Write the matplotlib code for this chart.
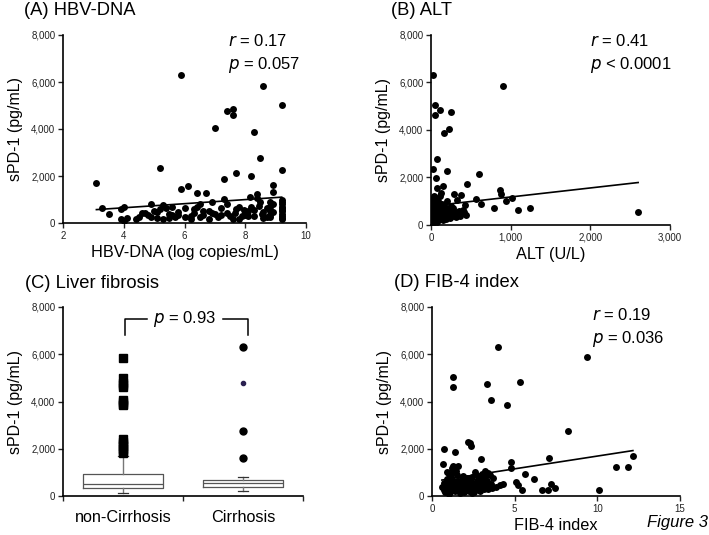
import matplotlib
matplotlib.use("Agg")
import matplotlib.pyplot as plt
from matplotlib.ticker import StrMethodFormatter

plt.rcParams['font.family'] = ['Liberation Sans', 'DejaVu Sans']

# (A) HBV-DNA vs sPD-1
hbv_x = [3.1, 3.3, 3.5, 3.9, 4.0, 3.9, 4.1, 4.0, 4.5, 4.7, 4.9, 4.8, 4.9, 5.1, 5.2, 5.1, 5.4, 5.5, 5.6, 5.8,
         5.9, 6.1, 5.7, 6.0, 6.0, 5.9, 5.3, 5.0, 4.6, 5.6, 5.3, 6.2, 6.3, 6.4, 6.5, 6.4, 6.6, 6.7, 6.8, 6.9,
         7.0, 7.0, 7.2, 7.3, 7.3, 7.4, 7.4, 7.5, 7.6, 7.6, 7.65, 7.7, 7.7, 7.8, 7.9, 7.95, 8.0, 8.1, 8.2, 8.15,
         8.2, 8.3, 8.3, 8.4, 8.4, 8.45, 8.5, 8.5, 8.55, 8.6, 8.6, 8.7, 8.8, 8.8, 8.8, 8.8, 8.8, 8.9, 8.9, 8.9,
         8.9, 9.2, 9.2, 9.2, 9.2, 9.2, 9.2, 9.2, 9.2, 9.2, 9.2, 9.2, 9.2, 9.2, 6.2, 6.6, 7.1, 7.8, 5.5, 6.3,
         6.9, 7.2, 7.6, 8.0, 8.6, 8.7, 4.4, 5.8, 6.8, 5.2, 7.4, 8.1, 6.5, 8.3]
hbv_y = [1700, 620, 370, 580, 660, 150, 230, 90, 240, 440, 810, 340, 270, 450, 2330, 200, 620, 370, 340, 450,
         1450, 1560, 270, 620, 270, 6300, 180, 500, 420, 680, 750, 300, 410, 1270, 270, 700, 520, 1270, 500, 900,
         370, 4040, 630, 1870, 1030, 420, 4750, 280, 4840, 4600, 410, 2130, 600, 700, 280, 550, 450, 300, 1980, 1120,
         700, 3870, 550, 1220, 1050, 740, 2750, 900, 400, 5850, 200, 620, 900, 700, 500, 350, 250, 1620, 1300, 800,
         450, 5030, 2260, 1000, 900, 800, 700, 650, 550, 500, 400, 300, 200, 150, 150, 330, 250, 180, 230, 600,
         420, 350, 150, 350, 450, 250, 150, 330, 180, 600, 800, 500, 820, 300]
hbv_fit = (87, 300)  # slope, intercept

# (B) ALT vs sPD-1
alt_x = [21, 54, 54, 113, 250, 229, 158, 75, 29, 63, 196, 604, 908, 71, 146, 125, 458, 292, 375, 867,
         875, 563, 625, 946, 1021, 792, 1096, 1238, 438, 430, 321, 2600,
         10, 12, 15, 18, 20, 22, 25, 28, 30, 33, 35, 38, 40, 42, 45, 48, 50, 52, 55, 58,
         60, 62, 65, 68, 70, 72, 75, 78, 80, 85, 88, 90, 95, 98, 100, 105, 110, 112, 118, 120,
         125, 130, 135, 140, 145, 150, 155, 160, 165, 170, 180, 185, 190, 200, 210, 220, 230, 240, 250, 260,
         270, 280, 290, 300, 310, 330, 350, 360, 380, 400, 420, 15, 30, 45, 25, 35, 90, 60, 140, 200, 250]
alt_y = [6320, 5050, 4630, 4840, 4770, 4040, 3890, 2780, 2360, 1960, 2270, 2150, 5870, 1570, 1640, 1330, 1730, 1290, 1260, 1470,
         1290, 1080, 880, 1020, 1150, 730, 630, 700, 420, 840, 1050, 560,
         900, 700, 500, 300, 150, 800, 600, 400, 250, 950, 700, 520, 350, 180, 850, 650, 450, 300, 1000, 750,
         550, 380, 200, 900, 600, 420, 280, 120, 800, 650, 480, 330, 700, 900, 550, 400, 250, 600, 1220, 800,
         450, 650, 300, 550, 750, 420, 200, 600, 850, 480, 350, 650, 250, 550, 400, 700, 450, 300, 600, 380,
         500, 700, 420, 550, 350, 480, 600, 380, 500, 650, 550, 1100, 1050, 1150, 100, 1200, 1000, 150, 900, 1000, 820]
alt_fit = (0.38, 800)

# (C) Liver fibrosis box plot
groups = ['non-Cirrhosis', 'Cirrhosis']
box_q1 = [350, 360]
box_med = [520, 530]
box_q3 = [950, 680]
box_lo = [130, 220]
box_hi = [1700, 820]
noncirr_out = [1800, 1900, 2000, 2100, 2200, 2300, 2400, 3850, 3900, 3980, 4050, 4600, 4700, 4800, 5000, 5850]
cirr_out = [1600, 2750, 6300]
cirr_out_small = [4800]
p_text_c = '$p$ = 0.93'

# (D) FIB-4 index vs sPD-1
fib_x = [4.0, 9.4, 1.3, 1.27, 3.3, 5.35, 3.55, 4.55, 8.25, 0.7, 1.37, 2.2, 2.35, 2.3, 0.65, 1.27, 1.55, 2.95, 4.75, 4.8,
         7.05, 5.6, 6.15, 6.65, 7.0, 7.2, 7.45, 5.1, 5.45, 5.2, 4.3, 4.1, 3.4, 10.1, 11.15, 11.85, 12.15,
         0.6, 0.7, 0.75, 0.8, 0.85, 0.9, 0.95, 1.0, 1.0, 1.05, 1.1, 1.1, 1.15, 1.2, 1.25, 1.3, 1.3, 1.35, 1.4, 1.45,
         1.5, 1.5, 1.55, 1.6, 1.65, 1.7, 1.75, 1.8, 1.85, 1.9, 1.95, 2.0, 2.05, 2.1, 2.15, 2.2, 2.25, 2.3, 2.35, 2.4,
         2.45, 2.5, 2.55, 2.6, 2.7, 2.75, 2.8, 2.9, 2.95, 3.0, 3.05, 3.1, 3.15, 3.2, 3.3, 3.35, 3.4, 3.5, 3.55, 3.6,
         1.2, 1.45, 0.9, 2.6, 3.2, 1.0, 1.7, 2.4, 3.7, 3.9, 2.8, 1.9]
fib_y = [6320, 5870, 5050, 4630, 4740, 4840, 4060, 3850, 2760, 1990, 1880, 2300, 2130, 2230, 1340, 1280, 1280, 1550, 1440, 1170,
         1600, 920, 720, 250, 250, 490, 330, 610, 250, 460, 510, 460, 990, 250, 1240, 1240, 1690,
         400, 250, 550, 150, 350, 700, 450, 950, 250, 600, 380, 150, 800, 500, 300, 1000, 650, 420, 200, 550,
         350, 900, 650, 450, 250, 520, 380, 700, 300, 480, 180, 600, 400, 750, 300, 520, 200, 650, 420, 800,
         300, 550, 180, 450, 650, 300, 500, 200, 700, 400, 950, 550, 300, 800, 450, 650, 280, 900, 500, 350,
         1200, 1050, 1000, 1000, 1050, 100, 120, 130, 750, 400, 850, 850]
fib_fit = (108, 610)


def style_axes(ax):
    for s in ['top', 'right']:
        ax.spines[s].set_visible(False)
    for s in ['left', 'bottom']:
        ax.spines[s].set_linewidth(1.2)
    ax.tick_params(direction='out', length=3.5, width=1, labelsize=7, pad=2, colors='#222')
    ax.set_ylim(0, 8000)
    ax.set_yticks([0, 2000, 4000, 6000, 8000])
    ax.yaxis.set_major_formatter(StrMethodFormatter('{x:,.0f}'))
    ax.set_ylabel('sPD-1 (pg/mL)', fontsize=11.5, labelpad=6)


def scatter_panel(ax, xs, ys, fit):
    ax.scatter(xs, ys, s=25, color='black', zorder=3, linewidths=0)
    x0, x1 = min(xs), max(xs)
    ax.plot([x0, x1], [fit[1] + fit[0] * x0, fit[1] + fit[0] * x1], color='black', lw=1.2, zorder=4)
    style_axes(ax)


fig = plt.figure(figsize=(7.09, 5.35), dpi=100)
W, H = 709, 535


def add_ax(l, t, r, b):
    return fig.add_axes([l / W, 1 - b / H, (r - l) / W, (b - t) / H])


axA = add_ax(63, 35, 306, 223)
axB = add_ax(431, 35, 670, 225)
axC = add_ax(63, 307, 303, 496)
axD = add_ax(432, 307, 680, 496)

# A
scatter_panel(axA, hbv_x, hbv_y, hbv_fit)
axA.set_xlim(2, 10)
axA.set_xticks([2, 4, 6, 8, 10])
axA.set_xlabel('HBV-DNA (log copies/mL)', fontsize=11.7, labelpad=3)
axA.text(0.68, 1.01, '$r$ = 0.17\n$p$ = 0.057', transform=axA.transAxes, fontsize=12,
         va='top', ha='left', linespacing=1.45)

# B
scatter_panel(axB, alt_x, alt_y, alt_fit)
axB.set_xlim(0, 3000)
axB.set_xticks([0, 1000, 2000, 3000])
axB.xaxis.set_major_formatter(StrMethodFormatter('{x:,.0f}'))
axB.set_xlabel('ALT (U/L)', fontsize=11.7, labelpad=3)
axB.text(0.665, 1.01, '$r$ = 0.41\n$p$ < 0.0001', transform=axB.transAxes, fontsize=12,
         va='top', ha='left', linespacing=1.45)

# C
stats = []
for i in range(len(groups)):
    stats.append({'label': groups[i], 'q1': box_q1[i], 'med': box_med[i], 'q3': box_q3[i],
                  'whislo': box_lo[i], 'whishi': box_hi[i], 'fliers': []})
axC.bxp(stats, positions=[0, 1], widths=0.67, showfliers=False, capwidths=0.08,
        boxprops=dict(color='#555', lw=0.9), medianprops=dict(color='#555', lw=0.9),
        whiskerprops=dict(color='#777', lw=1.0), capprops=dict(color='#333', lw=0.9))
axC.plot([0] * len(noncirr_out), noncirr_out, 's', color='black', ms=5.5)
axC.plot([1] * len(cirr_out), cirr_out, 'o', color='black', ms=5)
axC.plot([1] * len(cirr_out_small), cirr_out_small, 'o', color='#2a2050', ms=3)
axC.plot([0.02, 0.02, 0.2], [6800, 7500, 7500], color='black', lw=1.1)
axC.plot([0.83, 1.04, 1.04], [7500, 7500, 6800], color='black', lw=1.1)
axC.text(0.515, 7500, p_text_c, fontsize=12, ha='center', va='center')
style_axes(axC)
axC.set_xlim(-0.5, 1.5)
axC.set_xticks([-0.5, 0.5, 1.5])
axC.set_xticklabels([])
axC.set_xticks([0, 1], minor=True)
axC.set_xticklabels(groups, minor=True, fontsize=11.7)
axC.tick_params(axis='x', which='minor', length=0, pad=10, colors='black')

# D
scatter_panel(axD, fib_x, fib_y, fib_fit)
axD.set_xlim(0, 15)
axD.set_xticks([0, 5, 10, 15])
axD.set_xlabel('FIB-4 index', fontsize=11.7, labelpad=3)
axD.text(0.645, 1.0, '$r$ = 0.19\n$p$ = 0.036', transform=axD.transAxes, fontsize=12,
         va='top', ha='left', linespacing=1.45)

# panel titles
fig.text(24 / W, 1 - 2 / H, '(A) HBV-DNA', fontsize=13.2, va='top', ha='left')
fig.text(391 / W, 1 - 2 / H, '(B) ALT', fontsize=13.2, va='top', ha='left')
fig.text(25 / W, 1 - 275 / H, '(C) Liver fibrosis', fontsize=13.2, va='top', ha='left')
fig.text(394 / W, 1 - 274 / H, '(D) FIB-4 index', fontsize=13.2, va='top', ha='left')
fig.text(0.998, 1 - 527 / H, 'Figure 3', fontsize=12, style='italic', ha='right', va='baseline')

fig.savefig('out.png', dpi=100)
